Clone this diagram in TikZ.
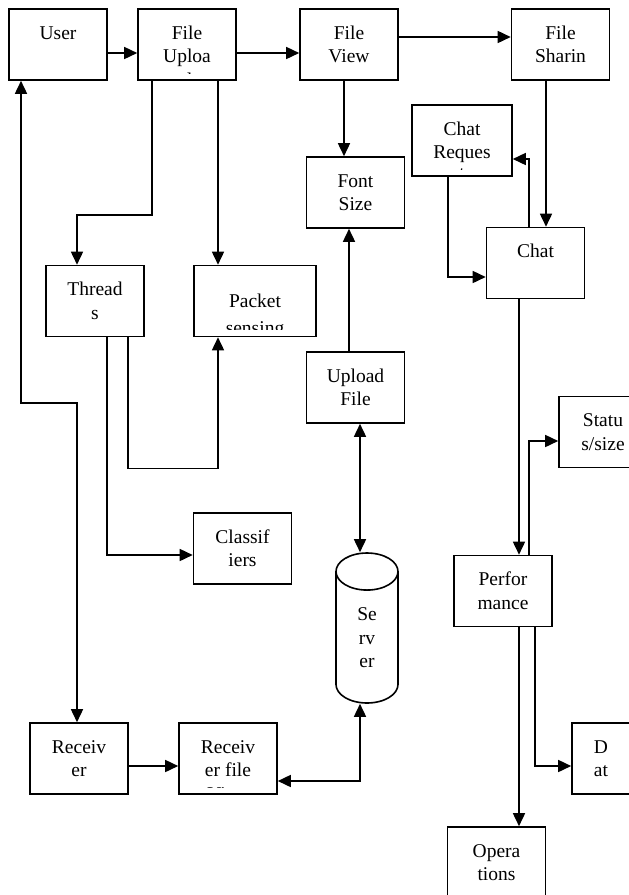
\documentclass[tikz,border=0pt]{standalone}
\usepackage{fontspec}
\setmainfont{Liberation Serif}
\usetikzlibrary{arrows.meta,shapes.geometric}
\newcommand{\boxfont}{\fontsize{19.5}{23.5}\selectfont}

\begin{document}
\begin{tikzpicture}
  [x=1pt, y=-1pt, line width=1.6pt,
   box/.style={draw, minimum width=98pt, minimum height=71pt, inner sep=0pt,
     path picture={\clip ([yshift=7pt]path picture bounding box.south west) rectangle (path picture bounding box.north east);
       \node[anchor=north, align=center, inner sep=0pt, minimum width=0pt, minimum height=0pt, font=\boxfont]
         at ([yshift=-13pt]path picture bounding box.north) {\strut #1};}},
   arr/.style={-{Triangle[length=13pt,width=12pt]}},
   darr/.style={{Triangle[length=13pt,width=12pt]}-{Triangle[length=13pt,width=12pt]}}]
  \useasboundingbox (0,0) rectangle (629,895);
  \clip (0,0) rectangle (629,895);

  % top row
  \node[box={User}] (user) at (58,44.5) {};
  \node[box={File\\Uploa\\d}] (fu) at (187,44.5) {};
  \node[box={File\\View}] (fv) at (349,44.5) {};
  \node[box={File\\Sharin}] (fsh) at (560.5,44.5) {};

  \node[box={Font\\Size}] (font) at (355.5,192.5) {};
  \node[box={Chat\\Reques\\[-3pt]t}, minimum width=100pt] (creq) at (462,140.5) {};
  \node[box={Chat}] (chat) at (535.5,263) {};

  \node[box={Thread\\s}] (thr) at (95,301) {};
  \node[box={\\[-12pt]Packet\\[4pt]sensing}, minimum width=122pt] (pkt) at (255,301) {};
  \node[box={Upload\\File}] (upl) at (355.5,387.5) {};
  \node[box={Statu\\s/size}, minimum width=88pt] (stat) at (603,432) {};
  \node[box={Classif\\iers}] (cls) at (242.5,548.5) {};
  \node[box={Perfor\\mance}] (perf) at (503,591) {};
  \node[draw, cylinder, shape border rotate=90, aspect=1.9, minimum width=62pt, minimum height=150pt,
        inner sep=0pt, align=center, font=\boxfont, anchor=shape center] (srv) at (367,628) {Se\\rv\\er};

  % bottom row
  \node[box={Receiv\\er}] (recv) at (79,758.5) {};
  \node[box={Receiv\\er file\\View}] (rf) at (228,758.5) {};
  \node[box={D\\at}, minimum width=58pt] (dat) at (601,758.5) {};
  \node[box={Opera\\tions}] (ops) at (496.5,862.5) {};

  \draw[arr] ([yshift=-8.5pt]user.east) -- ([yshift=-8.5pt]fu.west);
  \draw[arr] ([yshift=-8.5pt]fu.east) -- ([yshift=-8.5pt]fv.west);
  \draw[arr] ([yshift=7.5pt]fv.east) -- ([yshift=7.5pt]fsh.west);
  \draw[arr] ([xshift=-5pt]fv.south) -- ([xshift=-5pt]fv.south |- font.north);
  \draw[arr] ([xshift=-14.5pt]fsh.south) -- ([xshift=-14.5pt]fsh.south |- chat.north);
  \draw[arr] ([xshift=-6.5pt]chat.north) |- ([yshift=-18.5pt]creq.east);
  \draw[arr] ([xshift=-14pt]creq.south) |- ([yshift=-14pt]chat.west);
  \draw[arr] ([xshift=-6.5pt]upl.north) -- ([xshift=-6.5pt]upl.north |- font.south);
  \draw[darr] ([xshift=4.5pt]upl.south) -- ([xshift=4.5pt]upl.south |- srv.north);

  \draw[darr] ([xshift=-37pt]user.south) -- ++(0,322) -| ([xshift=-2pt]recv.north);
  \draw[arr] ([xshift=-35pt]fu.south) -- ++(0,134) -| ([xshift=-18pt]thr.north);
  \draw[arr] ([xshift=31pt]fu.south) -- ([xshift=31pt]fu.south |- pkt.north);
  \draw[arr] ([xshift=33pt]thr.south) -- ++(0,131) -| ([xshift=-37pt]pkt.south);
  \draw[arr] ([xshift=12pt]thr.south) |- ([yshift=-6.5pt]cls.west);
  \draw[arr] ([yshift=-7.5pt]recv.east) -- ([yshift=-7.5pt]rf.west);
  \draw[darr] ([yshift=-22.5pt]rf.east) -| ([xshift=-7pt]srv.south);

  \draw[arr] ([xshift=-16.5pt]chat.south) -- ([xshift=-16.5pt]chat.south |- perf.north);
  \draw[arr] ([xshift=26pt]perf.north) |- ([yshift=-9pt]stat.west);
  \draw[arr] ([xshift=16pt]perf.south) -- ([xshift=16pt]perf.south |- ops.north);
  \draw[arr] ([xshift=32pt]perf.south) |- ([yshift=-7.5pt]dat.west);
\end{tikzpicture}
\end{document}
